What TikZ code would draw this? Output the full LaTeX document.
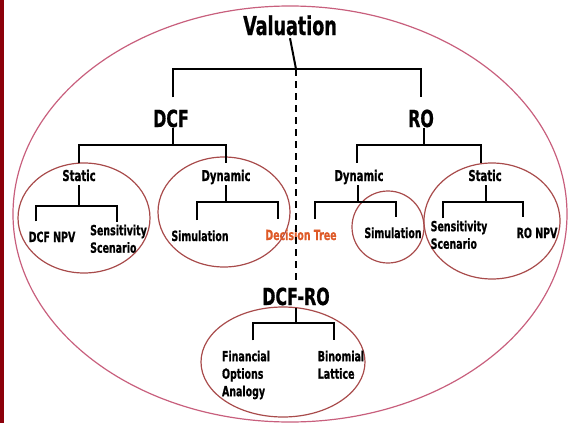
\documentclass[tikz,border=0pt]{standalone}
\usepackage{fontspec}
\newfontfamily\lf{DejaVu Sans Condensed}[BoldFont={DejaVu Sans Condensed Bold},BoldFeatures={FakeBold=0.8},FakeStretch=0.75]
\definecolor{barc}{RGB}{140,0,10}
\definecolor{bigc}{RGB}{200,95,125}
\definecolor{ringc}{RGB}{168,75,75}
\definecolor{dtc}{RGB}{222,90,40}
\begin{document}
\begin{tikzpicture}[x=1pt,y=-1pt,
  tree/.style={line width=2pt,black},
  ring/.style={draw=ringc,line width=1.2pt},
  bigring/.style={draw=bigc,line width=1.2pt},
  toplab/.style={font=\lf\bfseries\fontsize{26}{28}\selectfont,inner sep=0pt,anchor=base,text depth=3pt},
  mainlab/.style={font=\lf\bfseries\fontsize{23.5}{26}\selectfont,inner sep=0pt,anchor=base,text height=29.5pt,text depth=0.5pt},
  midlab/.style={font=\lf\bfseries\fontsize{23.5}{26}\selectfont,inner sep=0pt,anchor=base,text height=25pt,text depth=3pt},
  sublab/.style={font=\lf\bfseries\fontsize{15}{17}\selectfont,inner sep=0pt,anchor=base,text height=18pt,text depth=4pt},
  leaf/.style={font=\lf\bfseries\fontsize{14}{17.5}\selectfont,inner xsep=0pt,inner ysep=10pt},
  leafm/.style={font=\lf\bfseries\fontsize{14}{17.5}\selectfont,inner xsep=0pt,inner ysep=2pt,align=left,anchor=north}]
\useasboundingbox (0,0) rectangle (573,423);
\fill[barc] (0,0) rectangle (4,423);
% grouping ellipses
\draw[bigring] (290,214) ellipse [x radius=277pt,y radius=208pt];
\draw[ring] (84,218) ellipse [x radius=66pt,y radius=55pt];
\draw[ring] (224,212) ellipse [x radius=66pt,y radius=55pt];
\draw[ring] (388,227) ellipse [x radius=36pt,y radius=36pt];
\draw[ring] (492,221) ellipse [x radius=68pt,y radius=58pt];
\draw[ring] (283,362) ellipse [x radius=82pt,y radius=55pt];
% labels
\node[toplab] (val) at (290,35) {Valuation};
\node[mainlab] (dcf) at (171,127) {DCF};
\node[mainlab] (ro) at (421,127) {RO};
\node[midlab] (dcfro) at (296,305) {DCF-RO};
\node[sublab] (sdcf) at (79,181) {Static};
\node[sublab] (ddcf) at (226,181) {Dynamic};
\node[sublab] (dro) at (359,181) {Dynamic};
\node[sublab] (sro) at (485,181) {Static};
\node[leaf,anchor=base] (npv1) at (52,242) {DCF NPV};
\node[leafm] (sens1) at (118.5,222.4) {Sensitivity\\Scenario};
\node[leaf,anchor=base] (sim1) at (200,241) {Simulation};
\node[leaf,anchor=base,text=dtc] (dt) at (301,240) {Decision Tree};
\node[leaf,anchor=base] (sim2) at (393,238) {Simulation};
\node[leafm] (sens2) at (459,218.4) {Sensitivity\\Scenario};
\node[leaf,anchor=base] (npv2) at (537,238) {RO NPV};
\node[leafm,inner ysep=10pt] (fin) at (246,340.4) {Financial\\Options\\Analogy};
\node[leafm,inner ysep=10pt] (bin) at (341,340.4) {Binomial\\Lattice};
% junctions
\coordinate (vj) at (296,69);
\coordinate (jdcf) at (173,145);
\coordinate (jro) at (424,145);
\coordinate (jsd) at (79,206);
\coordinate (jdd) at (226,202);
\coordinate (jdr) at (358,202);
\coordinate (jsr) at (486,202);
\coordinate (jdr2) at (296,323);
% tree connectors
\draw[tree] (val.south) -- (vj);
\draw[tree] ([xshift=2pt]dcf.north) |- (vj) -| (ro.north);
\draw[tree,dashed,dash pattern=on 7pt off 5pt] (vj) -- (dcfro.north);
\draw[tree] ([xshift=2pt]dcf.south) -- (jdcf);
\draw[tree] (sdcf.north) |- (jdcf) -| (ddcf.north);
\draw[tree] ([xshift=3pt]ro.south) -- (jro);
\draw[tree] ([xshift=-2pt]dro.north) |- (jro) -| ([xshift=-4pt]sro.north);
\draw[tree] (sdcf.south) -- (jsd);
\draw[tree] ([xshift=-16pt]npv1.north) |- (jsd) -| ([xshift=-1.5pt]sens1.north);
\draw[tree] (ddcf.south) -- (jdd);
\draw[tree] ([xshift=-3pt]sim1.north) |- (jdd) -| ([xshift=-23pt]dt.north);
\draw[tree] ([xshift=-1pt]dro.south) -- (jdr);
\draw[tree] ([xshift=14pt]dt.north) |- (jdr) -| ([xshift=3pt]sim2.north);
\draw[tree] ([xshift=1pt]sro.south) -- (jsr);
\draw[tree] ([xshift=-16pt]sens2.north) |- (jsr) -| ([xshift=-14pt]npv2.north);
\draw[tree] (dcfro.south) -- (jdr2);
\draw[tree] ([xshift=7pt]fin.north) |- (jdr2) -| ([xshift=-7pt]bin.north);
\end{tikzpicture}
\end{document}
